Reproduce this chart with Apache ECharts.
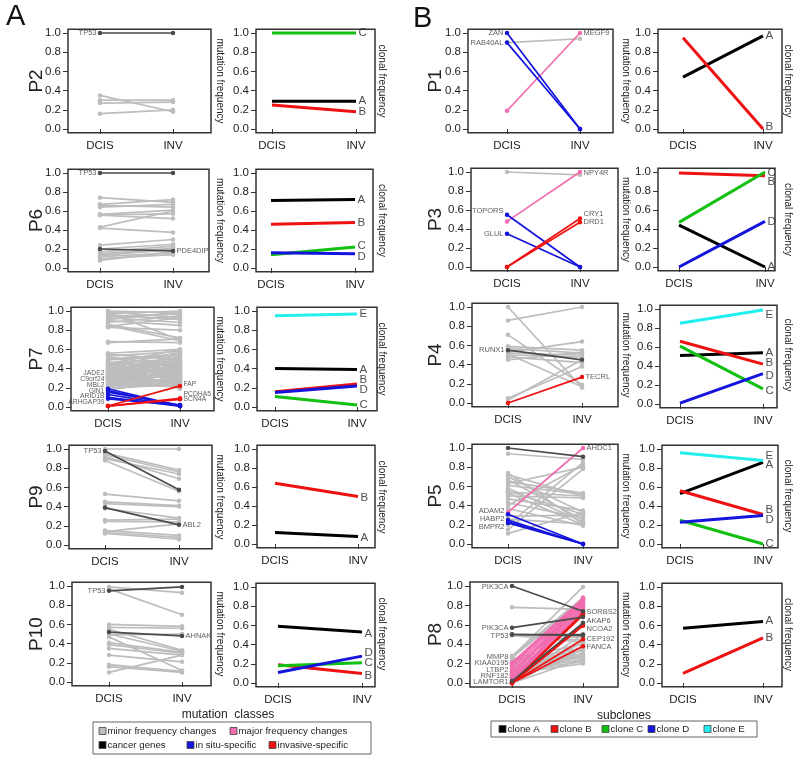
<!DOCTYPE html>
<html><head><meta charset="utf-8">
<script src="https://cdn.jsdelivr.net/npm/echarts@6/dist/echarts.min.js"></script>
<style>html,body{margin:0;padding:0;background:#fff}#c{width:800px;height:762px}</style>
</head><body><div id="c"></div>
<script>
// ---------------- DATA ----------------
const STAGES = ['DCIS', 'INV'];
const Y_TICKS = [0, 0.2, 0.4, 0.6, 0.8, 1.0];
const CLASS_NAMES = ['minor frequency changes', 'major frequency changes', 'cancer genes', 'in situ-specific', 'invasive-specific'];
const CLONE_NAMES = ['clone A', 'clone B', 'clone C', 'clone D', 'clone E'];

// each mutation pair = [DCIS freq, INV freq]; gene = [name, stage(1|2), label y]; clone = [letter, DCIS, INV, label y]
const P2_minor = [[0.35,0.18],[0.30,0.30],[0.27,0.28],[0.16,0.20]];
const P2_major = [];
const P2_cancer = [[1.0,1.0]];
const P2_insitu = [];
const P2_invasive = [];
const P2_genes = [['TP53',1,1.0]];
const P2_clones = [['A',0.29,0.29,0.29],['B',0.25,0.18,0.18],['C',1.0,1.0,1.0]];

const P6_minor = [[0.74,0.69],[0.67,0.72],[0.66,0.64],[0.64,0.67],[0.565,0.61],[0.555,0.52],[0.56,0.57],[0.43,0.60],[0.42,0.375],[0.24,0.30],[0.20,0.25],[0.17,0.23],[0.15,0.21],[0.14,0.19],[0.13,0.20],[0.12,0.16],[0.10,0.14],[0.08,0.17]];
const P6_major = [];
const P6_cancer = [[1.0,1.0],[0.20,0.18]];
const P6_insitu = [];
const P6_invasive = [];
const P6_genes = [['TP53',1,1.0],['PDE4DIP',2,0.18]];
const P6_clones = [['A',0.71,0.72,0.72],['B',0.46,0.48,0.48],['C',0.14,0.22,0.23],['D',0.16,0.15,0.12]];

const P7_minor = [[1.0,0.98],[0.99,0.93],[0.97,1.0],[0.96,0.91],[0.94,0.97],[0.93,0.88],[0.91,0.99],[0.90,0.85],[0.88,0.95],[0.86,0.72],[0.84,0.93],[0.83,0.80],[0.98,0.70],[0.85,0.69],
  [0.68,0.67],[0.67,0.71],[0.56,0.60],[0.55,0.49],[0.53,0.58],[0.52,0.43],[0.50,0.55],[0.49,0.53],
  [0.47,0.38],[0.46,0.50],[0.46,0.31],[0.45,0.45],[0.44,0.26],[0.44,0.48],[0.43,0.40],[0.42,0.57],[0.42,0.33],[0.41,0.44],[0.40,0.22],[0.40,0.47],[0.39,0.36],[0.38,0.52],[0.38,0.28],[0.37,0.41],[0.36,0.46],[0.36,0.24],[0.35,0.39],[0.34,0.55],[0.34,0.30],[0.33,0.43],[0.32,0.35],[0.32,0.20],[0.31,0.48],[0.30,0.27],[0.30,0.42],[0.29,0.37],[0.28,0.51],[0.28,0.25],[0.27,0.33],[0.26,0.45],[0.26,0.29],[0.25,0.40],[0.24,0.21],[0.24,0.35],[0.23,0.47],[0.22,0.31],[0.22,0.26],[0.21,0.38],[0.20,0.44],[0.20,0.23],[0.19,0.32],[0.18,0.27],[0.45,0.60],[0.43,0.19]];
const P7_major = [];
const P7_cancer = [];
const P7_insitu = [[0.19,0.01],[0.17,0.01],[0.155,0.02],[0.13,0.01],[0.10,0.01],[0.085,0.02]];
const P7_invasive = [[0.01,0.22],[0.01,0.09],[0.01,0.08]];
const P7_genes = [['JADE2',1,0.355],['C9orf24',1,0.29],['MBL2',1,0.23],['GIN1',1,0.17],['ARID1B',1,0.11],['ARHGAP39',1,0.05],['FAP',2,0.235],['PCDHA5',2,0.13],['SCN4A',2,0.08]];
const P7_clones = [['A',0.40,0.39,0.39],['B',0.16,0.24,0.28],['C',0.11,0.02,0.02],['D',0.15,0.22,0.18],['E',0.95,0.97,0.97]];

const P9_minor = [[1.0,1.0],[0.96,0.78],[0.94,0.76],[0.92,0.69],[0.90,0.74],[0.88,0.56],[0.53,0.46],[0.45,0.41],[0.43,0.40],[0.38,0.28],[0.26,0.27],[0.245,0.24],[0.15,0.10],[0.13,0.08],[0.12,0.06],[0.14,0.22]];
const P9_major = [];
const P9_cancer = [[0.98,0.575],[0.39,0.21]];
const P9_insitu = [];
const P9_invasive = [];
const P9_genes = [['TP53',1,0.98],['ABL2',2,0.21]];
const P9_clones = [['A',0.12,0.08,0.07],['B',0.64,0.50,0.49]];

const P10_minor = [[0.99,0.93],[0.97,0.70],[0.60,0.58],[0.57,0.56],[0.55,0.33],[0.50,0.32],[0.49,0.50],[0.47,0.12],[0.41,0.31],[0.39,0.30],[0.35,0.28],[0.28,0.21],[0.18,0.11],[0.16,0.10],[0.10,0.28]];
const P10_major = [];
const P10_cancer = [[0.95,0.99],[0.52,0.48]];
const P10_insitu = [];
const P10_invasive = [];
const P10_genes = [['TP53',1,0.95],['AHNAK',2,0.48]];
const P10_clones = [['A',0.59,0.53,0.515],['B',0.19,0.10,0.076],['C',0.18,0.21,0.21],['D',0.11,0.28,0.31]];

const P1_minor = [[0.90,0.94]];
const P1_major = [[0.19,1.0]];
const P1_cancer = [];
const P1_insitu = [[1.0,0.0],[0.90,0.0]];
const P1_invasive = [];
const P1_genes = [['ZAN',1,1.0],['RAB40AL',1,0.90],['MEGF9',2,1.0]];
const P1_clones = [['A',0.54,0.97,0.97],['B',0.95,0.0,0.02]];

const P3_minor = [[1.0,0.97]];
const P3_major = [[0.48,1.0]];
const P3_cancer = [];
const P3_insitu = [[0.55,0.0],[0.35,0.0]];
const P3_invasive = [[0.0,0.51],[0.0,0.47]];
const P3_genes = [['TOPORS',1,0.59],['GLUL',1,0.35],['NPY4R',2,0.99],['CRY1',2,0.555],['DRD1',2,0.47]];
const P3_clones = [['A',0.44,0.0,0.0],['B',0.99,0.96,0.895],['C',0.47,1.0,0.99],['D',0.0,0.48,0.48]];

const P4_minor = [[1.0,0.16],[0.86,1.0],[0.71,0.19],[0.59,0.55],[0.57,0.52],[0.53,0.64],[0.52,0.50],[0.51,0.17],[0.50,0.48],[0.48,0.42],[0.45,0.53],[0.05,0.38],[0.03,0.45]];
const P4_major = [];
const P4_cancer = [[0.55,0.45]];
const P4_insitu = [];
const P4_invasive = [[0.0,0.27]];
const P4_genes = [['RUNX1',1,0.55],['TECRL',2,0.27]];
const P4_clones = [['A',0.51,0.54,0.54],['B',0.66,0.42,0.43],['C',0.61,0.16,0.14],['D',0.01,0.32,0.295],['E',0.85,0.99,0.94]];

const P5_minor = [[0.94,0.88],[0.74,0.21],[0.72,0.50],[0.70,0.33],[0.67,0.25],[0.65,0.53],[0.63,0.80],[0.61,0.52],[0.58,0.23],[0.55,0.31],[0.54,0.50],[0.53,0.20],[0.50,0.48],[0.47,0.35],[0.43,0.27],[0.40,0.82],[0.37,0.19],[0.29,0.30],[0.26,0.21],[0.20,0.85],[0.15,0.78],[0.11,0.33]];
const P5_major = [[0.33,1.0]];
const P5_cancer = [[1.0,0.91]];
const P5_insitu = [[0.31,0.0],[0.25,0.0],[0.23,0.0],[0.22,0.0]];
const P5_invasive = [];
const P5_genes = [['ADAM2',1,0.34],['HABP2',1,0.26],['BMPR2',1,0.18],['AHDC1',2,1.0]];
const P5_clones = [['A',0.53,0.86,0.83],['B',0.56,0.31,0.355],['C',0.25,0.0,0.0],['D',0.23,0.30,0.25],['E',0.96,0.88,0.93]];

const P8_minor = [[0.78,0.76],[0.27,0.99],[0.50,0.47],[0.50,0.44],[0.49,0.42],[0.28,0.88],[0.26,0.86],[0.25,0.40],[0.23,0.36],[0.22,0.33],[0.20,0.30],[0.18,0.28],[0.16,0.26],[0.14,0.24],[0.12,0.22],[0.10,0.20],[0.08,0.34],[0.06,0.31],[0.05,0.29],[0.04,0.38],[0.03,0.42],[0.02,0.50],[0.01,0.46],[0.0,0.25],[0.0,0.35]];
const P8_major = [[0.21,0.87],[0.20,0.85],[0.18,0.86],[0.15,0.84],[0.12,0.82],[0.10,0.80],[0.08,0.86],[0.06,0.78],[0.04,0.76],[0.02,0.74],[0.01,0.83],[0.0,0.88]];
const P8_cancer = [[1.0,0.74],[0.57,0.68],[0.50,0.49],[0.50,0.50],[0.02,0.62]];
const P8_insitu = [];
const P8_invasive = [[0.0,0.72],[0.0,0.70],[0.0,0.61],[0.0,0.59],[0.0,0.45],[0.0,0.38]];
const P8_genes = [['PIK3CA',1,0.99],['PIK3CA',1,0.567],['TP53',1,0.49],['MMP8',1,0.265],['KIAA0195',1,0.203],['LTBP2',1,0.137],['RNF182',1,0.076],['LAMTOR1',1,0.01],
  ['SORBS2',2,0.73],['AKAP6',2,0.636],['NCOA2',2,0.56],['CEP192',2,0.454],['FANCA',2,0.375]];
const P8_clones = [['A',0.57,0.64,0.65],['B',0.10,0.47,0.47]];

// ---------------- LAYOUT (pixels: left, right, DCIS x, INV x, y of 1.0, y of 0.0) ----------------
const LAY_A_MUT = [[68,211,100,173,33,129],[68,209,100,173,173,268],[71,214,108,180,311,407],[69,212,105,179,449,545],[72,211,109,182,586,682]];
const LAY_A_CLO = [[256,375,272,356,33,129],[256,373,271,355,173,268],[257,377,275,357,311,407],[257,375,275,358,449,544],[256,375,278,362,587,683]];
const LAY_B_MUT = [[468,613,507,580,33,129],[471,618,507,580,172,267],[472,618,508,582,307,403],[472,618,508,583,448,544],[470,618,512,583,586,683]];
const LAY_B_CLO = [[658,782,683,763,33,129],[658,775,679,765,172,267],[660,777,680,763,309,404],[662,778,680,763,449,544],[662,782,683,763,587,683]];

const panelsA = [
  {name:'P2', minor:P2_minor, major:P2_major, cancer:P2_cancer, insitu:P2_insitu, invasive:P2_invasive, genes:P2_genes, clones:P2_clones},
  {name:'P6', minor:P6_minor, major:P6_major, cancer:P6_cancer, insitu:P6_insitu, invasive:P6_invasive, genes:P6_genes, clones:P6_clones},
  {name:'P7', minor:P7_minor, major:P7_major, cancer:P7_cancer, insitu:P7_insitu, invasive:P7_invasive, genes:P7_genes, clones:P7_clones, small:true},
  {name:'P9', minor:P9_minor, major:P9_major, cancer:P9_cancer, insitu:P9_insitu, invasive:P9_invasive, genes:P9_genes, clones:P9_clones},
  {name:'P10', minor:P10_minor, major:P10_major, cancer:P10_cancer, insitu:P10_insitu, invasive:P10_invasive, genes:P10_genes, clones:P10_clones}
];
const panelsB = [
  {name:'P1', minor:P1_minor, major:P1_major, cancer:P1_cancer, insitu:P1_insitu, invasive:P1_invasive, genes:P1_genes, clones:P1_clones},
  {name:'P3', minor:P3_minor, major:P3_major, cancer:P3_cancer, insitu:P3_insitu, invasive:P3_invasive, genes:P3_genes, clones:P3_clones},
  {name:'P4', minor:P4_minor, major:P4_major, cancer:P4_cancer, insitu:P4_insitu, invasive:P4_invasive, genes:P4_genes, clones:P4_clones},
  {name:'P5', minor:P5_minor, major:P5_major, cancer:P5_cancer, insitu:P5_insitu, invasive:P5_invasive, genes:P5_genes, clones:P5_clones},
  {name:'P8', minor:P8_minor, major:P8_major, cancer:P8_cancer, insitu:P8_insitu, invasive:P8_invasive, genes:P8_genes, clones:P8_clones}
];

// ---------------- STYLE ----------------
const FONT = '"Liberation Sans", Arial, Helvetica, sans-serif';
const CLASS_COLORS = {minor:'#BDBDBD', major:'#F26CB0', cancer:'#4A4A4A', insitu:'#1414DC', invasive:'#EE1111'};
const CLASS_Z = {minor:2, major:3, insitu:4, invasive:5, cancer:6};
const CLONE_COLORS = {A:'#000000', B:'#EE1111', C:'#12C012', D:'#1414DC', E:'#22EEEE'};
const TXT = '#222';

const grids = [], xAxes = [], yAxes = [], series = [], graphics = [];

function addPanel(lay) {
  const [L, R, d, i, y1, y0] = lay;
  const ux = i - d, uy = y0 - y1;
  const idx = grids.length;
  grids.push({left:L, top:y1 - 0.04*uy, width:R-L, height:1.08*uy, show:true, borderColor:'#333', borderWidth:1.5, backgroundColor:'transparent', outerBoundsMode:'none'});
  xAxes.push({type:'value', gridIndex:idx, min:1-(d-L)/ux, max:2+(R-i)/ux,
    axisLine:{show:false}, splitLine:{show:false},
    axisTick:{show:true, customValues:[1,2], length:5, lineStyle:{color:'#333', width:1}},
    axisLabel:{customValues:[1,2], formatter:v => STAGES[Math.round(v)-1] || '', margin:7, fontSize:11.5, color:TXT, fontFamily:FONT}});
  yAxes.push({type:'value', gridIndex:idx, min:-0.04, max:1.04,
    axisLine:{show:false}, splitLine:{show:false},
    axisTick:{show:true, customValues:Y_TICKS, length:5, lineStyle:{color:'#333', width:1}},
    axisLabel:{customValues:Y_TICKS, formatter:v => v.toFixed(1), margin:7, fontSize:11.5, color:TXT, fontFamily:FONT}});
  return idx;
}

function mutSeries(idx, p) {
  ['minor','major','insitu','invasive','cancer'].forEach(cls => {
    p[cls].forEach(pair => {
      series.push({type:'line', xAxisIndex:idx, yAxisIndex:idx, data:[[1,pair[0]],[2,pair[1]]],
        symbol:'circle', symbolSize:4.5, showSymbol:true, silent:true, z:CLASS_Z[cls],
        lineStyle:{color:CLASS_COLORS[cls], width:1.7}, itemStyle:{color:CLASS_COLORS[cls]}});
    });
  });
  const fs = p.small ? 6.8 : 7.5;
  series.push({type:'scatter', xAxisIndex:idx, yAxisIndex:idx, symbolSize:1, silent:true, z:10,
    itemStyle:{color:'rgba(0,0,0,0)'},
    data:p.genes.map(g => ({name:g[0], value:[g[1], g[2]], label:{position: g[1]===1 ? 'left' : 'right'}})),
    label:{show:true, formatter:'{b}', distance:3, fontSize:fs, color:'#333', fontFamily:FONT}});
}

function cloSeries(idx, p) {
  p.clones.forEach(c => {
    series.push({type:'line', xAxisIndex:idx, yAxisIndex:idx, data:[[1,c[1]],[2,c[2]]], symbol:'none', silent:true, z:3,
      lineStyle:{color:CLONE_COLORS[c[0]], width:3}});
  });
  series.push({type:'scatter', xAxisIndex:idx, yAxisIndex:idx, symbolSize:1, silent:true, z:10,
    itemStyle:{color:'rgba(0,0,0,0)'},
    data:p.clones.map(c => ({name:c[0], value:[2, c[3]]})),
    label:{show:true, position:'right', formatter:'{b}', distance:2, fontSize:11.5, color:TXT, fontFamily:FONT}});
}

function sideText(x, y, text, rot, size) {
  graphics.push({type:'text', x:x, y:y, rotation:rot, style:{text:text, fontSize:size, fill:TXT, fontFamily:FONT, align:'center', verticalAlign:'middle'}});
}

panelsA.forEach((p, r) => {
  const a = addPanel(LAY_A_MUT[r]); mutSeries(a, p);
  const b = addPanel(LAY_A_CLO[r]); cloSeries(b, p);
  const mid = (LAY_A_MUT[r][4] + LAY_A_MUT[r][5]) / 2;
  sideText(37, mid, p.name, Math.PI/2, 19);
  sideText(220, mid, 'mutation frequency', -Math.PI/2, 10);
  sideText(382, mid, 'clonal frequency', -Math.PI/2, 10);
});
panelsB.forEach((p, r) => {
  const a = addPanel(LAY_B_MUT[r]); mutSeries(a, p);
  const b = addPanel(LAY_B_CLO[r]); cloSeries(b, p);
  const mid = (LAY_B_MUT[r][4] + LAY_B_MUT[r][5]) / 2;
  sideText(436, mid, p.name, Math.PI/2, 19);
  sideText(626, mid, 'mutation frequency', -Math.PI/2, 10);
  sideText(788, mid, 'clonal frequency', -Math.PI/2, 10);
});

// panel letters
graphics.push({type:'text', x:6, y:2, style:{text:'A', fontSize:29, fill:'#111', fontFamily:FONT}});
graphics.push({type:'text', x:413, y:4, style:{text:'B', fontSize:29, fill:'#111', fontFamily:FONT}});

// legends
function legendItem(x, y, color, text) {
  graphics.push({type:'rect', shape:{x:x, y:y-3.5, width:7, height:7}, style:{fill:color, stroke:'#444', lineWidth:0.8}});
  graphics.push({type:'text', x:x+8.5, y:y, style:{text:text, fontSize:9.7, fill:TXT, fontFamily:FONT, verticalAlign:'middle'}});
}
graphics.push({type:'text', x:228, y:715, style:{text:'mutation  classes', fontSize:12, fill:TXT, fontFamily:FONT, align:'center', verticalAlign:'middle'}});
graphics.push({type:'rect', shape:{x:93, y:722, width:278, height:32}, style:{fill:'none', stroke:'#666', lineWidth:1}});
legendItem(99, 731, CLASS_COLORS.minor, CLASS_NAMES[0]);
legendItem(230, 731, CLASS_COLORS.major, CLASS_NAMES[1]);
legendItem(99, 745, '#000', CLASS_NAMES[2]);
legendItem(187, 745, CLASS_COLORS.insitu, CLASS_NAMES[3]);
legendItem(269, 745, CLASS_COLORS.invasive, CLASS_NAMES[4]);

graphics.push({type:'text', x:624, y:716, style:{text:'subclones', fontSize:12, fill:TXT, fontFamily:FONT, align:'center', verticalAlign:'middle'}});
graphics.push({type:'rect', shape:{x:491, y:721, width:266, height:16}, style:{fill:'none', stroke:'#666', lineWidth:1}});
const cloneLegendX = [499, 551, 602, 648, 704];
['A','B','C','D','E'].forEach((k, j) => legendItem(cloneLegendX[j], 729, CLONE_COLORS[k], CLONE_NAMES[j]));

const chart = echarts.init(document.getElementById('c'), null, {renderer:'canvas'});
chart.setOption({
  animation:false, backgroundColor:'#fff',
  grid:grids, xAxis:xAxes, yAxis:yAxes, series:series, graphic:graphics
});
</script></body></html>
